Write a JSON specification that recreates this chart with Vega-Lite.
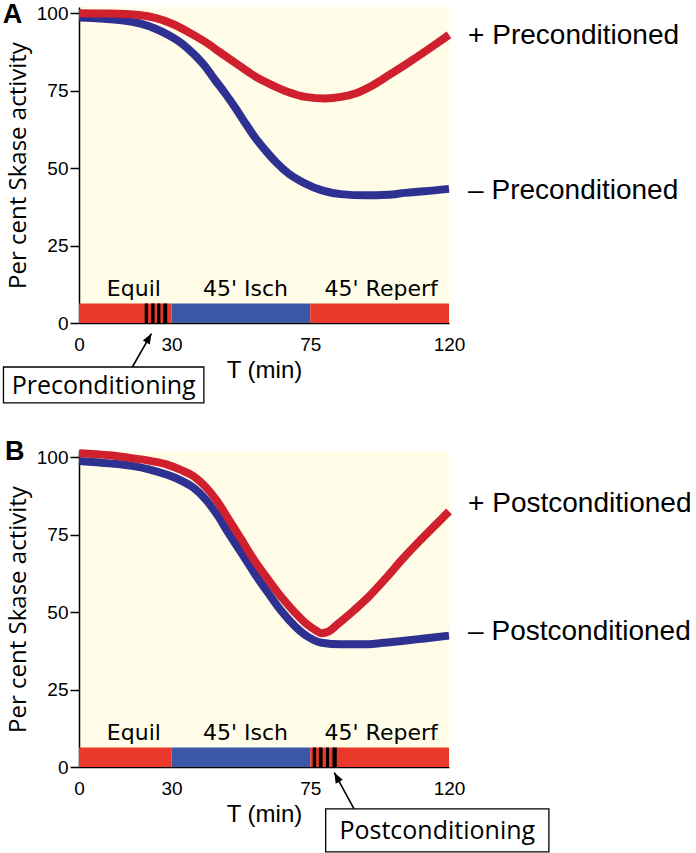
{
  "$schema": "https://vega.github.io/schema/vega-lite/v6.json",
  "padding": {"left": 2, "top": -3, "right": 0, "bottom": 0},
  "background": "white",
  "config": {
    "view": {"fill": "#fffce8", "stroke": null},
    "font": "Liberation Sans",
    "axis": {"grid": false, "domainColor": "black", "domainWidth": 1.5, "tickColor": "black", "tickWidth": 1.5, "labelColor": "black", "titleColor": "black", "labelFont": "Liberation Sans", "labelFontSize": 18, "titleFontWeight": "normal", "labelFlush": false, "labelOverlap": false}
  },
  "datasets": {
    "curves": [
      {"panel":"A","series":"plus","T":0,"v":100},{"panel":"A","series":"plus","T":10,"v":99.9},{"panel":"A","series":"plus","T":19.4,"v":99.4},{"panel":"A","series":"plus","T":25,"v":98.4},{"panel":"A","series":"plus","T":30.2,"v":96.6},{"panel":"A","series":"plus","T":35,"v":94.2},{"panel":"A","series":"plus","T":41,"v":90.7},{"panel":"A","series":"plus","T":46,"v":87.2},{"panel":"A","series":"plus","T":51.8,"v":83.2},{"panel":"A","series":"plus","T":57,"v":79.7},{"panel":"A","series":"plus","T":62.6,"v":76.8},{"panel":"A","series":"plus","T":68,"v":74.5},{"panel":"A","series":"plus","T":73.4,"v":73},{"panel":"A","series":"plus","T":79.9,"v":72.5},{"panel":"A","series":"plus","T":85,"v":73},{"panel":"A","series":"plus","T":89.6,"v":74.1},{"panel":"A","series":"plus","T":95,"v":76.6},{"panel":"A","series":"plus","T":100.5,"v":80},{"panel":"A","series":"plus","T":106,"v":83.5},{"panel":"A","series":"plus","T":111.3,"v":87},{"panel":"A","series":"plus","T":116,"v":90.2},{"panel":"A","series":"plus","T":120,"v":93},
      {"panel":"A","series":"minus","T":0,"v":98.6},{"panel":"A","series":"minus","T":13.9,"v":97.7},{"panel":"A","series":"minus","T":20,"v":96.6},{"panel":"A","series":"minus","T":24.8,"v":95},{"panel":"A","series":"minus","T":29,"v":93},{"panel":"A","series":"minus","T":33.4,"v":90.2},{"panel":"A","series":"minus","T":37,"v":87},{"panel":"A","series":"minus","T":41,"v":82.7},{"panel":"A","series":"minus","T":44,"v":78.6},{"panel":"A","series":"minus","T":47.5,"v":74},{"panel":"A","series":"minus","T":51,"v":69},{"panel":"A","series":"minus","T":54,"v":64.4},{"panel":"A","series":"minus","T":57,"v":60},{"panel":"A","series":"minus","T":60.4,"v":55.8},{"panel":"A","series":"minus","T":64,"v":51.8},{"panel":"A","series":"minus","T":68,"v":48.2},{"panel":"A","series":"minus","T":73,"v":45.2},{"panel":"A","series":"minus","T":78.8,"v":42.8},{"panel":"A","series":"minus","T":85,"v":41.6},{"panel":"A","series":"minus","T":92.9,"v":41.2},{"panel":"A","series":"minus","T":100,"v":41.4},{"panel":"A","series":"minus","T":105.8,"v":42},{"panel":"A","series":"minus","T":112,"v":42.5},{"panel":"A","series":"minus","T":120,"v":43.3},
      {"panel":"B","series":"plus","T":0,"v":101.3},{"panel":"B","series":"plus","T":10,"v":100.6},{"panel":"B","series":"plus","T":17.7,"v":99.6},{"panel":"B","series":"plus","T":23,"v":98.8},{"panel":"B","series":"plus","T":28.6,"v":97.6},{"panel":"B","series":"plus","T":33,"v":95.9},{"panel":"B","series":"plus","T":37.3,"v":93.8},{"panel":"B","series":"plus","T":41,"v":90.5},{"panel":"B","series":"plus","T":44.9,"v":85.7},{"panel":"B","series":"plus","T":48.5,"v":80},{"panel":"B","series":"plus","T":52.5,"v":73.7},{"panel":"B","series":"plus","T":57,"v":66.5},{"panel":"B","series":"plus","T":61.2,"v":60.7},{"panel":"B","series":"plus","T":65.5,"v":55},{"panel":"B","series":"plus","T":70,"v":49.9},{"panel":"B","series":"plus","T":74,"v":46},{"panel":"B","series":"plus","T":77,"v":44},{"panel":"B","series":"plus","T":78.7,"v":43.2},{"panel":"B","series":"plus","T":81,"v":43.8},{"panel":"B","series":"plus","T":84,"v":46.2},{"panel":"B","series":"plus","T":88.4,"v":49.9},{"panel":"B","series":"plus","T":94,"v":55},{"panel":"B","series":"plus","T":99.3,"v":60.7},{"panel":"B","series":"plus","T":105,"v":67.2},{"panel":"B","series":"plus","T":110.2,"v":72.7},{"panel":"B","series":"plus","T":115,"v":77.5},{"panel":"B","series":"plus","T":120,"v":82.5},
      {"panel":"B","series":"minus","T":0,"v":98.8},{"panel":"B","series":"minus","T":10,"v":98},{"panel":"B","series":"minus","T":17.7,"v":97.1},{"panel":"B","series":"minus","T":23,"v":96},{"panel":"B","series":"minus","T":28.6,"v":94.3},{"panel":"B","series":"minus","T":33,"v":92.5},{"panel":"B","series":"minus","T":37.3,"v":90},{"panel":"B","series":"minus","T":41,"v":86.5},{"panel":"B","series":"minus","T":44.9,"v":81.3},{"panel":"B","series":"minus","T":48.5,"v":75.5},{"panel":"B","series":"minus","T":52.5,"v":69.4},{"panel":"B","series":"minus","T":57,"v":62.4},{"panel":"B","series":"minus","T":61.2,"v":56.4},{"panel":"B","series":"minus","T":65.5,"v":50.5},{"panel":"B","series":"minus","T":70,"v":45.5},{"panel":"B","series":"minus","T":74,"v":42.2},{"panel":"B","series":"minus","T":78.7,"v":40.1},{"panel":"B","series":"minus","T":85,"v":39.6},{"panel":"B","series":"minus","T":91.7,"v":39.6},{"panel":"B","series":"minus","T":98,"v":40},{"panel":"B","series":"minus","T":104.8,"v":40.7},{"panel":"B","series":"minus","T":112,"v":41.5},{"panel":"B","series":"minus","T":120,"v":42.4}
    ],
    "phases": [
      {"phase":"Equil","start":0,"end":30},{"phase":"Isch","start":30,"end":75},{"phase":"Reperf","start":75,"end":120}
    ],
    "phaseLabels": [
      {"label":"Equil","T":17.8},{"label":"45' Isch","T":54},{"label":"45' Reperf","T":98}
    ],
    "stripes": [
      {"panel":"A","start":21.3,"end":22.4},{"panel":"A","start":23.4,"end":24.5},{"panel":"A","start":25.3,"end":26.4},{"panel":"A","start":27.3,"end":28.6},
      {"panel":"B","start":75.8,"end":76.9},{"panel":"B","start":77.8,"end":79.0},{"panel":"B","start":80.1,"end":81.1},{"panel":"B","start":82.2,"end":83.6}
    ],
    "seriesLabels": [
      {"panel":"A","label":"+ Preconditioned","T":126.2,"v":92.6},{"panel":"A","label":"– Preconditioned","T":126.2,"v":42.5},
      {"panel":"B","label":"+ Postconditioned","T":126.2,"v":84.8},{"panel":"B","label":"– Postconditioned","T":126.2,"v":43.7}
    ],
    "boxes": [
      {"panel":"A","label":"Preconditioning","left":-24.5,"right":40.5,"top":-14.2,"bottom":-25.8,"cx":8,"cy":-20.2},
      {"panel":"B","label":"Postconditioning","left":80,"right":152.4,"top":-13.5,"bottom":-27.4,"cx":116.2,"cy":-20.6}
    ],
    "arrows": [
      {"panel":"A","T0":17.3,"v0":-14.2,"T1":23.5,"v1":-3.4},
      {"panel":"B","T0":89.2,"v0":-13.5,"T1":82.8,"v1":-1.8}
    ],
    "letters": [
      {"panel":"A","T":-24.7,"v":96.8},{"panel":"B","T":-24,"v":99}
    ]
  },
  "vconcat": [
    {
      "width": 370, "height": 316,
      "layer": [
        {"data": {"name": "phases"}, "mark": {"type": "rect"},
         "encoding": {
           "x": {"field": "start", "type": "quantitative", "scale": {"domain": [0,120], "nice": false, "zero": false}, "axis": {"values": [0,30,75,120], "title": "T (min)", "ticks": false, "tickSize": 0, "labelPadding": 12, "labelFontSize": 19, "titleFontSize": 24, "titlePadding": 4}},
           "x2": {"field": "end"},
           "y": {"datum": 0, "type": "quantitative", "scale": {"domain": [0,102], "nice": false}, "axis": {"values": [0,25,50,75,100], "title": "Per cent Skase activity", "tickSize": 9, "labelPadding": 2, "labelFontSize": 19, "titleFont": "Open Sans", "titleFontSize": 24, "titlePadding": 6}},
           "y2": {"datum": 6.3},
           "fill": {"field": "phase", "type": "nominal", "scale": {"domain": ["Equil","Isch","Reperf"], "range": ["#e8392b","#3d57a7","#e8392b"]}, "legend": null}
         }},
        {"data": {"name": "stripes"}, "transform": [{"filter": "datum.panel == 'A'"}], "mark": {"type": "rect", "fill": "black"},
         "encoding": {"x": {"field": "start", "type": "quantitative", "axis": {"title": "T (min)"}}, "x2": {"field": "end"}, "y": {"datum": 0, "type": "quantitative", "axis": {"title": "Per cent Skase activity"}}, "y2": {"datum": 6.3}}},
        {"data": {"name": "phaseLabels"}, "mark": {"type": "text", "font": "DejaVu Sans", "fontSize": 22, "baseline": "alphabetic", "align": "center", "color": "black"},
         "encoding": {"x": {"field": "T", "type": "quantitative", "axis": {"title": "T (min)"}}, "y": {"datum": 8.6, "type": "quantitative", "axis": {"title": "Per cent Skase activity"}}, "text": {"field": "label"}}},
        {"data": {"name": "curves"}, "transform": [{"filter": "datum.panel == 'A' && datum.series == 'minus'"}], "mark": {"type": "line", "color": "#2e3192", "strokeWidth": 8, "interpolate": "monotone"},
         "encoding": {"x": {"field": "T", "type": "quantitative", "axis": {"title": "T (min)"}}, "y": {"field": "v", "type": "quantitative", "axis": {"title": "Per cent Skase activity"}}}},
        {"data": {"name": "curves"}, "transform": [{"filter": "datum.panel == 'A' && datum.series == 'plus'"}], "mark": {"type": "line", "color": "#d0202e", "strokeWidth": 8, "interpolate": "monotone"},
         "encoding": {"x": {"field": "T", "type": "quantitative", "axis": {"title": "T (min)"}}, "y": {"field": "v", "type": "quantitative", "axis": {"title": "Per cent Skase activity"}}}},
        {"data": {"name": "seriesLabels"}, "transform": [{"filter": "datum.panel == 'A'"}], "mark": {"type": "text", "fontSize": 28, "align": "left", "baseline": "middle", "color": "black"},
         "encoding": {"x": {"field": "T", "type": "quantitative", "axis": {"title": "T (min)"}}, "y": {"field": "v", "type": "quantitative", "axis": {"title": "Per cent Skase activity"}}, "text": {"field": "label"}}},
        {"data": {"name": "letters"}, "transform": [{"filter": "datum.panel == 'A'"}], "mark": {"type": "text", "fontSize": 27, "fontWeight": "bold", "align": "left", "baseline": "alphabetic", "color": "black", "text": "A"},
         "encoding": {"x": {"field": "T", "type": "quantitative", "axis": {"title": "T (min)"}}, "y": {"field": "v", "type": "quantitative", "axis": {"title": "Per cent Skase activity"}}}},
        {"data": {"name": "boxes"}, "transform": [{"filter": "datum.panel == 'A'"}], "mark": {"type": "rect", "fill": "white", "stroke": "black", "strokeWidth": 1.3},
         "encoding": {"x": {"field": "left", "type": "quantitative", "axis": {"title": "T (min)"}}, "x2": {"field": "right"}, "y": {"field": "top", "type": "quantitative", "axis": {"title": "Per cent Skase activity"}}, "y2": {"field": "bottom"}}},
        {"data": {"name": "boxes"}, "transform": [{"filter": "datum.panel == 'A'"}], "mark": {"type": "text", "font": "Open Sans", "fontSize": 25, "align": "center", "baseline": "middle", "color": "black"},
         "encoding": {"x": {"field": "cx", "type": "quantitative", "axis": {"title": "T (min)"}}, "y": {"field": "cy", "type": "quantitative", "axis": {"title": "Per cent Skase activity"}}, "text": {"field": "label"}}},
        {"data": {"name": "arrows"}, "transform": [{"filter": "datum.panel == 'A'"}], "mark": {"type": "rule", "color": "black", "strokeWidth": 1.6},
         "encoding": {"x": {"field": "T0", "type": "quantitative", "axis": {"title": "T (min)"}}, "y": {"field": "v0", "type": "quantitative", "axis": {"title": "Per cent Skase activity"}}, "x2": {"field": "T1"}, "y2": {"field": "v1"}}},
        {"data": {"name": "arrows"}, "transform": [{"filter": "datum.panel == 'A'"}], "mark": {"type": "point", "filled": true, "color": "black", "opacity": 1, "shape": "M0,0L-1,2.6L1,2.6Z", "size": 64, "angle": 29.6},
         "encoding": {"x": {"field": "T1", "type": "quantitative", "axis": {"title": "T (min)"}}, "y": {"field": "v1", "type": "quantitative", "axis": {"title": "Per cent Skase activity"}}}}
      ]
    },
    {
      "width": 370, "height": 316,
      "layer": [
        {"data": {"name": "phases"}, "mark": {"type": "rect"},
         "encoding": {
           "x": {"field": "start", "type": "quantitative", "scale": {"domain": [0,120], "nice": false, "zero": false}, "axis": {"values": [0,30,75,120], "title": "T (min)", "ticks": false, "tickSize": 0, "labelPadding": 12, "labelFontSize": 19, "titleFontSize": 24, "titlePadding": 4}},
           "x2": {"field": "end"},
           "y": {"datum": 0, "type": "quantitative", "scale": {"domain": [0,102], "nice": false}, "axis": {"values": [0,25,50,75,100], "title": "Per cent Skase activity", "tickSize": 9, "labelPadding": 2, "labelFontSize": 19, "titleFont": "Open Sans", "titleFontSize": 24, "titlePadding": 6}},
           "y2": {"datum": 6.3},
           "fill": {"field": "phase", "type": "nominal", "scale": {"domain": ["Equil","Isch","Reperf"], "range": ["#e8392b","#3d57a7","#e8392b"]}, "legend": null}
         }},
        {"data": {"name": "stripes"}, "transform": [{"filter": "datum.panel == 'B'"}], "mark": {"type": "rect", "fill": "black"},
         "encoding": {"x": {"field": "start", "type": "quantitative", "axis": {"title": "T (min)"}}, "x2": {"field": "end"}, "y": {"datum": 0, "type": "quantitative", "axis": {"title": "Per cent Skase activity"}}, "y2": {"datum": 6.3}}},
        {"data": {"name": "phaseLabels"}, "mark": {"type": "text", "font": "DejaVu Sans", "fontSize": 22, "baseline": "alphabetic", "align": "center", "color": "black"},
         "encoding": {"x": {"field": "T", "type": "quantitative", "axis": {"title": "T (min)"}}, "y": {"datum": 8.6, "type": "quantitative", "axis": {"title": "Per cent Skase activity"}}, "text": {"field": "label"}}},
        {"data": {"name": "curves"}, "transform": [{"filter": "datum.panel == 'B' && datum.series == 'minus'"}], "mark": {"type": "line", "color": "#2e3192", "strokeWidth": 8, "interpolate": "monotone"},
         "encoding": {"x": {"field": "T", "type": "quantitative", "axis": {"title": "T (min)"}}, "y": {"field": "v", "type": "quantitative", "axis": {"title": "Per cent Skase activity"}}}},
        {"data": {"name": "curves"}, "transform": [{"filter": "datum.panel == 'B' && datum.series == 'plus'"}], "mark": {"type": "line", "color": "#d0202e", "strokeWidth": 8, "interpolate": "monotone"},
         "encoding": {"x": {"field": "T", "type": "quantitative", "axis": {"title": "T (min)"}}, "y": {"field": "v", "type": "quantitative", "axis": {"title": "Per cent Skase activity"}}}},
        {"data": {"name": "seriesLabels"}, "transform": [{"filter": "datum.panel == 'B'"}], "mark": {"type": "text", "fontSize": 28, "align": "left", "baseline": "middle", "color": "black"},
         "encoding": {"x": {"field": "T", "type": "quantitative", "axis": {"title": "T (min)"}}, "y": {"field": "v", "type": "quantitative", "axis": {"title": "Per cent Skase activity"}}, "text": {"field": "label"}}},
        {"data": {"name": "letters"}, "transform": [{"filter": "datum.panel == 'B'"}], "mark": {"type": "text", "fontSize": 27, "fontWeight": "bold", "align": "left", "baseline": "alphabetic", "color": "black", "text": "B"},
         "encoding": {"x": {"field": "T", "type": "quantitative", "axis": {"title": "T (min)"}}, "y": {"field": "v", "type": "quantitative", "axis": {"title": "Per cent Skase activity"}}}},
        {"data": {"name": "boxes"}, "transform": [{"filter": "datum.panel == 'B'"}], "mark": {"type": "rect", "fill": "white", "stroke": "black", "strokeWidth": 1.3},
         "encoding": {"x": {"field": "left", "type": "quantitative", "axis": {"title": "T (min)"}}, "x2": {"field": "right"}, "y": {"field": "top", "type": "quantitative", "axis": {"title": "Per cent Skase activity"}}, "y2": {"field": "bottom"}}},
        {"data": {"name": "boxes"}, "transform": [{"filter": "datum.panel == 'B'"}], "mark": {"type": "text", "font": "Open Sans", "fontSize": 25, "align": "center", "baseline": "middle", "color": "black"},
         "encoding": {"x": {"field": "cx", "type": "quantitative", "axis": {"title": "T (min)"}}, "y": {"field": "cy", "type": "quantitative", "axis": {"title": "Per cent Skase activity"}}, "text": {"field": "label"}}},
        {"data": {"name": "arrows"}, "transform": [{"filter": "datum.panel == 'B'"}], "mark": {"type": "rule", "color": "black", "strokeWidth": 1.6},
         "encoding": {"x": {"field": "T0", "type": "quantitative", "axis": {"title": "T (min)"}}, "y": {"field": "v0", "type": "quantitative", "axis": {"title": "Per cent Skase activity"}}, "x2": {"field": "T1"}, "y2": {"field": "v1"}}},
        {"data": {"name": "arrows"}, "transform": [{"filter": "datum.panel == 'B'"}], "mark": {"type": "point", "filled": true, "color": "black", "opacity": 1, "shape": "M0,0L-1,2.6L1,2.6Z", "size": 64, "angle": -28.3},
         "encoding": {"x": {"field": "T1", "type": "quantitative", "axis": {"title": "T (min)"}}, "y": {"field": "v1", "type": "quantitative", "axis": {"title": "Per cent Skase activity"}}}}
      ]
    }
  ],
  "spacing": 128,
  "bounds": "flush"
}
